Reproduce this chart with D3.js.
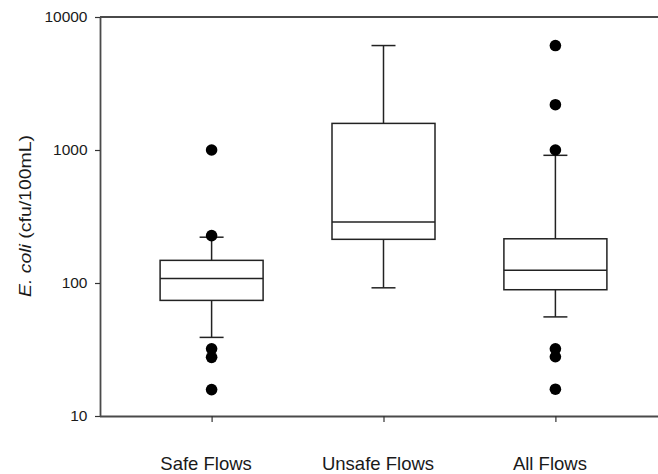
<!DOCTYPE html>
<html>
<head>
<meta charset="utf-8">
<script src="https://cdn.jsdelivr.net/npm/d3@7"></script>
<style>
  html, body { margin: 0; padding: 0; background: #fff; }
  svg { display: block; }
  text { font-family: "Liberation Sans", Arial, sans-serif; fill: #1a1a1a; }
</style>
</head>
<body>
<svg id="chart" width="658" height="474"></svg>
<script>
const categories = ["Safe Flows", "Unsafe Flows", "All Flows"];
const whiskerLow  = [39, 92, 55.6];
const q1Values    = [74, 213, 89];
const medians     = [108, 287, 124.5];
const q3Values    = [148, 1585, 215];
const whiskerHigh = [221, 6100, 912];
const outliers = [
  [1000, 227, 32, 27.6, 15.8],
  [],
  [6100, 2190, 1000, 32, 27.9, 15.9]
];
const yTickValues = [10, 100, 1000, 10000];

(function () {
const svg = d3.select("#chart");
const mLeft = 100, mTop = 17, mBottom = 416, mRight = 660;

const x = d3.scalePoint().domain(categories).range([211.6, 555.4]);
const y = d3.scaleLog().domain([10, 10000]).range([mBottom, mTop]);
const boxW = 103, capW = 24;

// frame top line
svg.append("line").attr("x1", mLeft).attr("x2", mRight).attr("y1", mTop).attr("y2", mTop)
  .attr("stroke", "#4a4a4a").attr("stroke-width", 1.8);

// y axis
const yAxis = svg.append("g").attr("transform", `translate(${mLeft},0)`)
  .call(d3.axisLeft(y).tickValues(yTickValues).tickFormat(d3.format("d")).tickSize(5).tickSizeOuter(0));
yAxis.select(".domain").attr("stroke", "#4a4a4a").attr("stroke-width", 1.8);
yAxis.selectAll(".tick line").attr("stroke", "#333").attr("stroke-width", 1.2);
yAxis.selectAll(".tick text").attr("x", -12.5).attr("font-size", 15.5).attr("fill", "#1a1a1a")
  .style("font-family", "'Liberation Sans', Arial, sans-serif");

// x axis
const xAxis = svg.append("g").attr("transform", `translate(0,${mBottom})`)
  .call(d3.axisBottom(x).tickSize(6).tickSizeOuter(0));
xAxis.select(".domain").attr("d", `M${mLeft},0.5H${mRight}`).attr("stroke", "#4a4a4a").attr("stroke-width", 1.8);
xAxis.selectAll(".tick line").attr("stroke", "#333").attr("stroke-width", 1.2);
xAxis.selectAll(".tick text").attr("y", 53.5).attr("dy", 0).attr("x", -6).attr("font-size", 18.5)
  .attr("fill", "#1a1a1a").style("font-family", "'Liberation Sans', Arial, sans-serif");

// y title
const title = svg.append("text")
  .attr("transform", `translate(31,216) rotate(-90)`)
  .attr("text-anchor", "middle")
  .attr("font-size", 16.5)
  .attr("textLength", 162)
  .attr("lengthAdjust", "spacingAndGlyphs");
title.append("tspan").attr("font-style", "italic").text("E. coli");
title.append("tspan").text(" (cfu/100mL)");

// boxes
const boxes = categories.map((c, i) => ({
  c, lo: whiskerLow[i], q1: q1Values[i], med: medians[i], q3: q3Values[i], hi: whiskerHigh[i], out: outliers[i]
}));

const g = svg.append("g").attr("stroke", "#222").attr("stroke-width", 1.5).attr("fill", "none");
boxes.forEach(b => {
  const cx = x(b.c);
  g.append("line").attr("x1", cx).attr("x2", cx).attr("y1", y(b.q3)).attr("y2", y(b.hi));
  g.append("line").attr("x1", cx).attr("x2", cx).attr("y1", y(b.q1)).attr("y2", y(b.lo));
  g.append("line").attr("x1", cx - capW / 2).attr("x2", cx + capW / 2).attr("y1", y(b.hi)).attr("y2", y(b.hi));
  g.append("line").attr("x1", cx - capW / 2).attr("x2", cx + capW / 2).attr("y1", y(b.lo)).attr("y2", y(b.lo));
  g.append("rect").attr("x", cx - boxW / 2).attr("width", boxW)
    .attr("y", y(b.q3)).attr("height", y(b.q1) - y(b.q3)).attr("fill", "#fff");
  g.append("line").attr("x1", cx - boxW / 2).attr("x2", cx + boxW / 2).attr("y1", y(b.med)).attr("y2", y(b.med));
  svg.selectAll(null).data(b.out).enter().append("circle")
    .attr("cx", cx).attr("cy", d => y(d)).attr("r", 5.8).attr("fill", "#000");
});
})();
</script>
</body>
</html>
